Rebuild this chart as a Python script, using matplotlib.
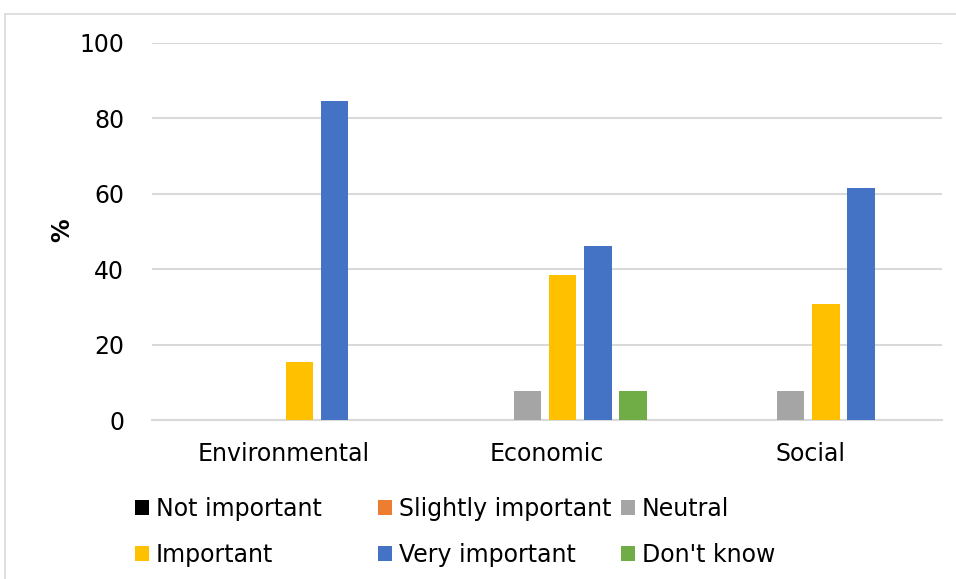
import numpy as np
import matplotlib.pyplot as plt
from matplotlib.patches import Rectangle, Patch

categories = ["Environmental", "Economic", "Social"]
series = ["Not important", "Slightly important", "Neutral",
          "Important", "Very important", "Don't know"]
colors = ["#000000", "#ed7d31", "#a5a5a5", "#ffc000", "#4472c4", "#70ad47"]

# percentages per series, in category order
not_important = [0, 0, 0]
slightly_important = [0, 0, 0]
neutral = [0, 7.7, 7.7]
important = [15.4, 38.5, 30.8]
very_important = [84.6, 46.2, 61.5]
dont_know = [0, 7.7, 0]
values = [not_important, slightly_important, neutral,
          important, very_important, dont_know]

plt.rcParams['font.family'] = ['DejaVu Sans']
fs = 17

fig = plt.figure(figsize=(9.56, 5.79), dpi=100)
ax = fig.add_axes([152 / 956, 1 - 420 / 579, 790 / 956, 377 / 579])

x = np.arange(len(categories))
slot = 0.134
width = 0.104
for i, (name, vals) in enumerate(zip(series, values)):
    ax.bar(x + (i - 2.5) * slot - 0.008, vals, width, color=colors[i], label=name, zorder=3)

ax.set_xlim(-0.5, 2.5)
ax.set_ylim(0, 100)
ax.set_yticks(range(0, 101, 20))
ax.set_xticks(x)
ax.set_xticklabels(categories)
ax.tick_params(length=0, labelsize=fs, colors="black")
ax.tick_params(axis="y", pad=20)
ax.tick_params(axis="x", pad=16)
ax.grid(axis="y", color="#d9d9d9", linewidth=1.5, zorder=0)
for s in ["top", "right", "left"]:
    ax.spines[s].set_visible(False)
ax.spines["bottom"].set_color("#d9d9d9")
ax.spines["bottom"].set_linewidth(1.5)
ax.set_ylabel("%", fontsize=fs, fontweight="bold")
ax.yaxis.set_label_coords(-0.098, 0.504)

# legend: three columns placed like the original
handles = [Patch(facecolor=c, edgecolor="none") for c in colors]
col_x = [123 / 956, 366 / 956, 609 / 956]
for c in range(3):
    idx = [c, c + 3]
    fig.legend([handles[k] for k in idx], [series[k] for k in idx],
               loc="upper left", bbox_to_anchor=(col_x[c], 1 - 485 / 579),
               frameon=False, fontsize=fs, handlelength=0.6, handleheight=0.6,
               handletextpad=0.3, labelspacing=0.95, borderpad=0)

# light chart border
fig.patches.append(Rectangle((5 / 956, -0.1), 1.0, 1 - 14 / 579 + 0.1,
                             transform=fig.transFigure, fill=False,
                             edgecolor="#d9d9d9", linewidth=1.2))

fig.savefig("out.png", dpi=100)
